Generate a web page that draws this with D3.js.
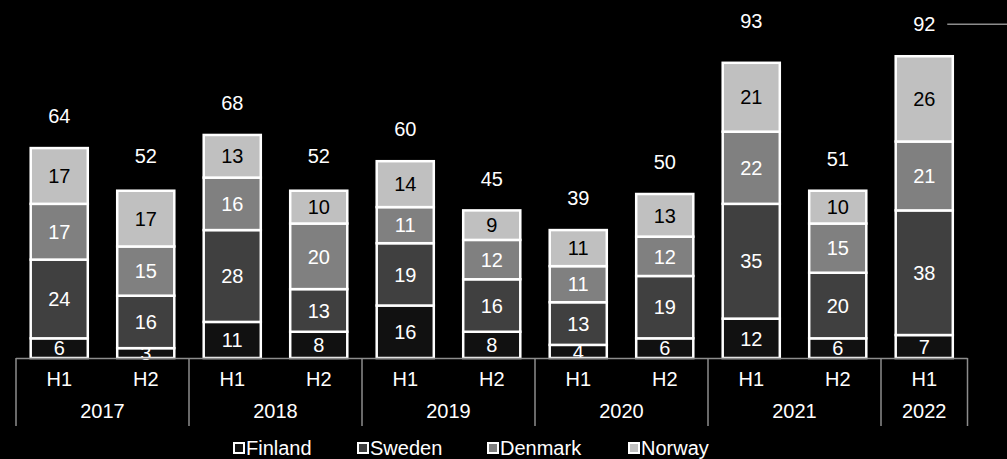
<!DOCTYPE html>
<html>
<head>
<meta charset="utf-8">
<script src="https://cdn.jsdelivr.net/npm/d3@7/dist/d3.min.js"></script>
<style>
  html, body { margin: 0; padding: 0; background: #000; }
  svg { display: block; }
  text { font-family: "Liberation Sans", Arial, sans-serif; }
</style>
</head>
<body>
<svg id="chart" width="1007" height="459"></svg>
<script>
// Half-year periods and their year groups
const periods = ["H1", "H2", "H1", "H2", "H1", "H2", "H1", "H2", "H1", "H2", "H1"];
const years = ["2017", "2017", "2018", "2018", "2019", "2019", "2020", "2020", "2021", "2021", "2022"];

// Values per country (bottom to top of each stack)
const finland = [6, 3, 11, 8, 16, 8, 4, 6, 12, 6, 7];
const sweden  = [24, 16, 28, 13, 19, 16, 13, 19, 35, 20, 38];
const denmark = [17, 15, 16, 20, 11, 12, 11, 12, 22, 15, 21];
const norway  = [17, 17, 13, 10, 14, 9, 11, 13, 21, 10, 26];

// Reported totals shown above each bar
const totals = [64, 52, 68, 52, 60, 45, 39, 50, 93, 51, 92];

const seriesNames = ["Finland", "Sweden", "Denmark", "Norway"];
const seriesFill  = ["#111111", "#404040", "#808080", "#c0c0c0"];
const labelFill   = ["#ffffff", "#ffffff", "#ffffff", "#000000"];

const svg = d3.select("#chart");
const baseY = 358;
const left = 16, right = 967.5;
const fs = 20;

const keys = periods.map((p, i) => i);
const x = d3.scaleBand().domain(keys).range([left, right]).paddingInner(0).paddingOuter(0);
const y = d3.scaleLinear().domain([0, 100]).range([baseY, baseY - 328]);

const rows = keys.map(i => ({
  i, Finland: finland[i], Sweden: sweden[i], Denmark: denmark[i], Norway: norway[i]
}));
const stacked = d3.stack().keys(seriesNames)(rows);

const barW = x.bandwidth() * 0.66;
const barX = i => x(i) + (x.bandwidth() - barW) / 2;

// Stacked segments
const layers = svg.append("g").selectAll("g").data(stacked).join("g");
layers.selectAll("rect").data((s, si) => s.map(d => ({ d, si })))
  .join("rect")
  .attr("x", o => barX(o.d.data.i))
  .attr("y", o => y(o.d[1]))
  .attr("width", barW)
  .attr("height", o => y(o.d[0]) - y(o.d[1]))
  .attr("fill", o => seriesFill[o.si])
  .attr("stroke", "#ffffff")
  .attr("stroke-width", 2.5);

// Segment value labels
layers.selectAll("text").data((s, si) => s.map(d => ({ d, si })))
  .join("text")
  .attr("x", o => barX(o.d.data.i) + barW / 2)
  .attr("y", o => (y(o.d[0]) + y(o.d[1])) / 2)
  .attr("dy", "0.36em")
  .attr("text-anchor", "middle")
  .attr("font-size", fs)
  .attr("fill", o => labelFill[o.si])
  .text(o => o.d[1] - o.d[0]);

// Totals above bars
svg.append("g").selectAll("text").data(keys).join("text")
  .attr("x", i => x(i) + x.bandwidth() / 2)
  .attr("y", i => y(totals[i]) - 32)
  .attr("dy", "0.36em")
  .attr("text-anchor", "middle")
  .attr("font-size", fs)
  .attr("fill", "#ffffff")
  .text(i => totals[i]);

// Leader line beside the last total
const lastI = keys[keys.length - 1];
svg.append("line")
  .attr("x1", x(lastI) + x.bandwidth() / 2 + 23)
  .attr("x2", 1007)
  .attr("y1", y(totals[lastI]) - 32)
  .attr("y2", y(totals[lastI]) - 32)
  .attr("stroke", "#8c8c8c")
  .attr("stroke-width", 1.5);

// Category axis: baseline, period row, year row
const axisG = svg.append("g");
axisG.append("line")
  .attr("x1", left).attr("x2", right)
  .attr("y1", baseY + 0.5).attr("y2", baseY + 0.5)
  .attr("stroke", "#8c8c8c").attr("stroke-width", 1.5);

axisG.selectAll("text.period").data(keys).join("text")
  .attr("class", "period")
  .attr("x", i => x(i) + x.bandwidth() / 2)
  .attr("y", 379)
  .attr("dy", "0.36em")
  .attr("text-anchor", "middle")
  .attr("font-size", fs)
  .attr("fill", "#ffffff")
  .text(i => periods[i]);

const yearGroups = d3.groups(keys, i => years[i]).map(([yr, idx]) => ({
  yr, x0: x(idx[0]), x1: x(idx[idx.length - 1]) + x.bandwidth()
}));

const bounds = [yearGroups[0].x0, ...yearGroups.map(g => g.x1)];
axisG.selectAll("line.sep").data(bounds).join("line")
  .attr("class", "sep")
  .attr("x1", d => d).attr("x2", d => d)
  .attr("y1", baseY).attr("y2", 426)
  .attr("stroke", "#8c8c8c").attr("stroke-width", 1.5);

axisG.selectAll("text.year").data(yearGroups).join("text")
  .attr("class", "year")
  .attr("x", g => (g.x0 + g.x1) / 2)
  .attr("y", 411)
  .attr("dy", "0.36em")
  .attr("text-anchor", "middle")
  .attr("font-size", fs)
  .attr("fill", "#ffffff")
  .text(g => g.yr);

// Legend
const legendX = [233, 357, 487, 628];
const legend = svg.append("g").selectAll("g").data(seriesNames).join("g")
  .attr("transform", (d, i) => `translate(${legendX[i]},448)`);
legend.append("rect")
  .attr("x", 1).attr("y", -5).attr("width", 10).attr("height", 10)
  .attr("fill", (d, i) => seriesFill[i])
  .attr("stroke", "#ffffff").attr("stroke-width", 2);
legend.append("text")
  .attr("x", 13).attr("y", 0).attr("dy", "0.36em")
  .attr("font-size", fs)
  .attr("fill", "#ffffff")
  .text(d => d);
</script>
</body>
</html>
